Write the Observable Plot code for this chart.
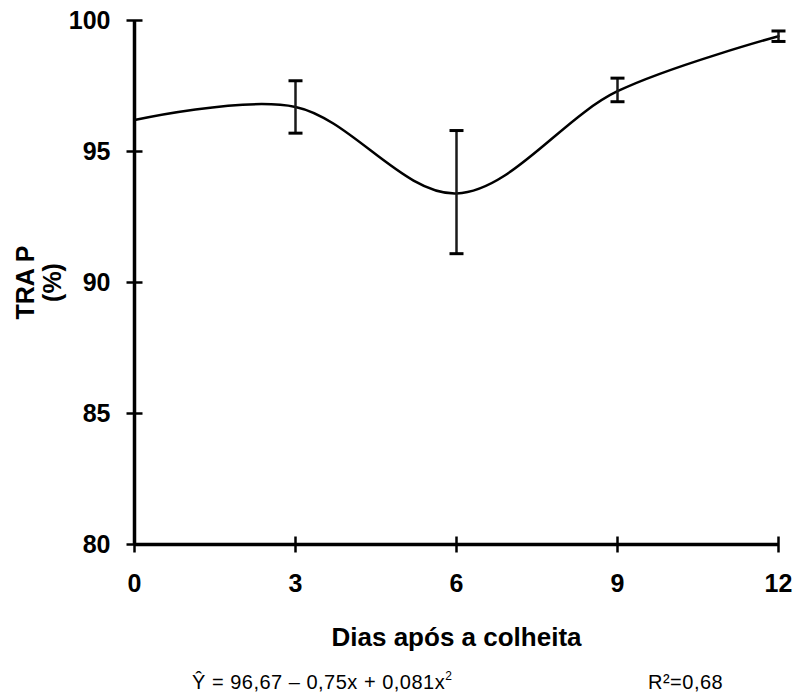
<!DOCTYPE html>
<html>
<head>
<meta charset="utf-8">
<script src="https://cdn.jsdelivr.net/npm/d3@7"></script>
<script src="https://cdn.jsdelivr.net/npm/@observablehq/plot@0.6"></script>
<style>
  html, body { margin: 0; padding: 0; background: #fff; }
  #wrap { position: relative; width: 796px; height: 697px; font-family: "Liberation Sans", Arial, sans-serif; color: #000; }
  #wrap svg { display: block; }
  .eq { position: absolute; top: 672px; font-size: 20px; line-height: 20px; letter-spacing: 0.5px; white-space: nowrap; }
  .eq sup { font-size: 12px; line-height: 0; vertical-align: 0; position: relative; top: -9px; }
</style>
</head>
<body>
<div id="wrap"></div>
<script>
// Dias após a colheita e TRA P (%) médio, com os limites das barras de erro
const days = [0, 3, 6, 9, 12];
const trap = [96.2, 96.7, 93.4, 97.3, 99.4];
const errLow = [null, 95.7, 91.1, 96.9, 99.2];
const errHigh = [null, 97.7, 95.8, 97.8, 99.6];

const xTicks = [0, 3, 6, 9, 12];
const yTicks = [80, 85, 90, 95, 100];

const xLabel = "Dias após a colheita";
const yLabel = "TRA P\n(%)";

const points = days.map((d, i) => ({day: d, value: trap[i], low: errLow[i], high: errHigh[i]}));
const bars = points.filter(p => p.low != null);

// short line symbols for error-bar caps and the axis ticks that cross the axis
const hLine = {draw(ctx, size) { const r = Math.sqrt(size / Math.PI); ctx.moveTo(-r, 0); ctx.lineTo(r, 0); }};
const vLine = {draw(ctx, size) { const r = Math.sqrt(size / Math.PI); ctx.moveTo(0, -r); ctx.lineTo(0, r); }};

const font = "'Liberation Sans', Arial, sans-serif";

const chart = Plot.plot({
  width: 796,
  height: 660,
  marginLeft: 134,
  marginRight: 18,
  marginTop: 20,
  marginBottom: 116,
  style: {fontFamily: font, background: "#fff", color: "#000"},
  x: {domain: [0, 12]},
  y: {domain: [80, 100]},
  marks: [
    // axis lines
    Plot.ruleX([0], {y1: 80, y2: 100, stroke: "#000", strokeWidth: 3.5}),
    Plot.ruleY([80], {x1: 0, x2: 12, stroke: "#000", strokeWidth: 3.5}),
    // tick marks crossing the axes
    Plot.dot(yTicks, {x: () => 0, y: d => d, symbol: hLine, r: 8, fill: "none", stroke: "#000", strokeWidth: 2.5}),
    Plot.dot(xTicks, {x: d => d, y: () => 80, symbol: vLine, r: 8, fill: "none", stroke: "#000", strokeWidth: 2.5}),
    // tick labels
    Plot.axisY({ticks: yTicks, tickSize: 0, tickPadding: 24, fontSize: 25, fontWeight: "bold", label: null}),
    Plot.axisX({ticks: xTicks, tickSize: 0, tickPadding: 30, fontSize: 25, fontWeight: "bold", label: null}),
    // axis titles
    Plot.text([xLabel], {frameAnchor: "bottom", dy: 83, lineAnchor: "top", fontSize: 26, fontWeight: "bold"}),
    Plot.text([yLabel], {frameAnchor: "left", dx: -96, rotate: -90, lineAnchor: "middle", textAnchor: "middle", lineHeight: 1.1, fontSize: 25, fontWeight: "bold"}),
    // smoothed mean line
    Plot.line(points, {x: "day", y: "value", curve: "catmull-rom", stroke: "#000", strokeWidth: 2.5}),
    // error bars
    Plot.ruleX(bars, {x: "day", y1: "low", y2: "high", stroke: "#1a1a1a", strokeWidth: 2.5}),
    Plot.dot(bars, {x: "day", y: "low", symbol: hLine, r: 7, fill: "none", stroke: "#000", strokeWidth: 3}),
    Plot.dot(bars, {x: "day", y: "high", symbol: hLine, r: 7, fill: "none", stroke: "#000", strokeWidth: 3})
  ]
});

const wrap = document.getElementById("wrap");
wrap.appendChild(chart);

const eq = document.createElement("div");
eq.className = "eq";
eq.style.left = "192px";
eq.innerHTML = "Ŷ = 96,67 – 0,75x + 0,081x<sup>2</sup>";
wrap.appendChild(eq);

const r2 = document.createElement("div");
r2.className = "eq";
r2.style.left = "648px";
r2.textContent = "R²=0,68";
wrap.appendChild(r2);
</script>
</body>
</html>
